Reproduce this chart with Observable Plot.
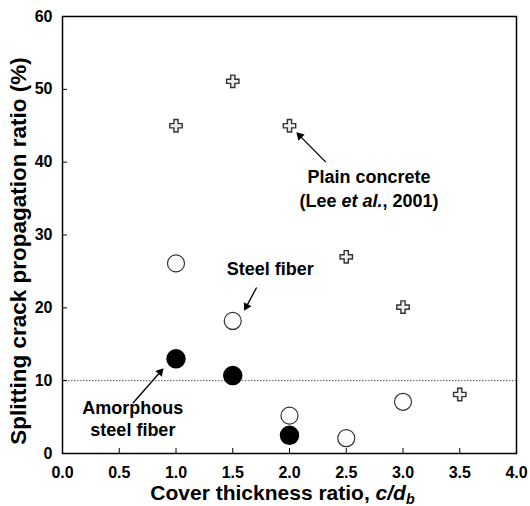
<!DOCTYPE html>
<html><head><meta charset="utf-8">
<script src="https://cdn.jsdelivr.net/npm/d3@7"></script>
<script src="https://cdn.jsdelivr.net/npm/@observablehq/plot@0.6"></script>
<style>body{margin:0;background:#fff;}</style>
</head><body><div id="chart"></div>
<script>
const xTicks = [0, 0.5, 1, 1.5, 2, 2.5, 3, 3.5, 4];
const yTicks = [0, 10, 20, 30, 40, 50, 60];
const plainX = [1.0, 1.5, 2.0, 2.5, 3.0, 3.5];
const plainY = [45.0, 51.1, 45.0, 27.0, 20.1, 8.1];
const steelX = [1.0, 1.5, 2.0, 2.5, 3.0];
const steelY = [26.1, 18.2, 5.2, 2.1, 7.1];
const amorphX = [1.0, 1.5, 2.0];
const amorphY = [13.0, 10.7, 2.5];
const thresholdY = [10];
const noteText = ["Plain concrete", "(Lee et al., 2001)", "Steel fiber", "Amorphous", "steel fiber"];
const noteX = [2.70, 2.70, 1.83, 0.62, 0.62];
const noteY = [37.9, 34.7, 25.3, 6.2, 3.2];
const arrowX1 = [2.32, 1.71, 0.62];
const arrowY1 = [40.0, 22.8, 6.9];
const arrowX2 = [2.06, 1.60, 0.89];
const arrowY2 = [44.1, 19.6, 11.7];
const xLabel = "Cover thickness ratio, c/db";
const yLabel = "Splitting crack propagation ratio (%)";

const W = 530, H = 506, mL = 62, mR = 14, mT = 16, mB = 53;
const sx = d3.scaleLinear([0, 4], [mL, W - mR]);
const sy = d3.scaleLinear([0, 60], [H - mB, mT]);
const headR = 3.2;
const tipDist = 2 * Math.sqrt(headR * headR * Math.PI / (3 * Math.sqrt(3)));
const arrows = arrowX1.map((x1, i) => {
  const px1 = sx(x1), py1 = sy(arrowY1[i]), px2 = sx(arrowX2[i]), py2 = sy(arrowY2[i]);
  const dx = px2 - px1, dy = py2 - py1, len = Math.hypot(dx, dy);
  const ux = dx / len, uy = dy / len;
  return {
    x1, y1: arrowY1[i],
    x2: sx.invert(px2 - ux * 5), y2: sy.invert(py2 - uy * 5),
    hx: sx.invert(px2 - ux * tipDist), hy: sy.invert(py2 - uy * tipDist),
    rot: Math.atan2(dx, -dy) * 180 / Math.PI
  };
});

const hollowPlus = {
  draw(ctx) {
    const a = 6.2, b = 2.1;
    ctx.moveTo(-b, -a); ctx.lineTo(b, -a); ctx.lineTo(b, -b); ctx.lineTo(a, -b);
    ctx.lineTo(a, b); ctx.lineTo(b, b); ctx.lineTo(b, a); ctx.lineTo(-b, a);
    ctx.lineTo(-b, b); ctx.lineTo(-a, b); ctx.lineTo(-a, -b); ctx.lineTo(-b, -b);
    ctx.closePath();
  }
};

const chart = Plot.plot({
  width: W, height: H,
  marginLeft: mL, marginRight: mR, marginTop: mT, marginBottom: mB,
  style: {fontFamily: "'Liberation Sans', Arial, sans-serif", fontWeight: "bold", fontSize: "16px", color: "#000", background: "#fff"},
  x: {domain: [0, 4]},
  y: {domain: [0, 60]},
  marks: [
    Plot.ruleY(thresholdY, {stroke: "#555", strokeDasharray: "1.5,1.5", strokeWidth: 1}),
    Plot.axisX({ticks: xTicks, tickFormat: d3.format(".1f"), tickSize: -5, tickPadding: 18, label: null, fontSize: 16, fontWeight: "bold"}),
    Plot.axisY({ticks: yTicks, tickFormat: d3.format("d"), tickSize: -5, tickPadding: 15, label: null, fontSize: 16, fontWeight: "bold"}),
    Plot.frame({stroke: "#000", strokeWidth: 1.5}),
    Plot.dot(d3.range(plainX.length), {x: i => plainX[i], y: i => plainY[i], symbol: hollowPlus, fill: "#efefef", stroke: "#333", strokeWidth: 1.4}),
    Plot.dot(d3.range(steelX.length), {x: i => steelX[i], y: i => steelY[i], r: 8.5, fill: "#fff", stroke: "#333", strokeWidth: 1.2}),
    Plot.dot(d3.range(amorphX.length), {x: i => amorphX[i], y: i => amorphY[i], r: 9, fill: "#000", stroke: "#000"}),
    Plot.link(arrows, {x1: "x1", y1: "y1", x2: "x2", y2: "y2", stroke: "#000", strokeWidth: 1.3}),
    Plot.dot(arrows, {x: "hx", y: "hy", symbol: "triangle", r: headR, rotate: "rot", fill: "#000"}),
    Plot.text(d3.range(noteText.length), {x: i => noteX[i], y: i => noteY[i], text: i => noteText[i], fontSize: 18, fontWeight: "bold", fill: "#000"}),
    Plot.text([xLabel], {frameAnchor: "bottom", textAnchor: "middle", lineAnchor: "middle", dy: 40, dx: -7, fontSize: 21, fontWeight: "bold", fill: "#000"}),
    Plot.text([yLabel], {frameAnchor: "left", textAnchor: "middle", lineAnchor: "middle", rotate: -90, dx: -44, dy: 16, fontSize: 22.5, fontWeight: "bold", fill: "#000"})
  ]
});

d3.select(chart).selectAll("text").each(function() {
  const t = this.textContent;
  const s = d3.select(this);
  if (t === "(Lee et al., 2001)") {
    s.text(null);
    s.append("tspan").text("(Lee ");
    s.append("tspan").attr("font-style", "italic").text("et al.");
    s.append("tspan").text(", 2001)");
  } else if (t === xLabel) {
    s.text(null);
    s.append("tspan").text("Cover thickness ratio, ");
    s.append("tspan").attr("font-style", "italic").text("c/d");
    s.append("tspan").attr("font-style", "italic").attr("font-size", "0.68em").attr("dy", "0.25em").text("b");
  }
});

document.getElementById("chart").appendChild(chart);
</script>
</body></html>
